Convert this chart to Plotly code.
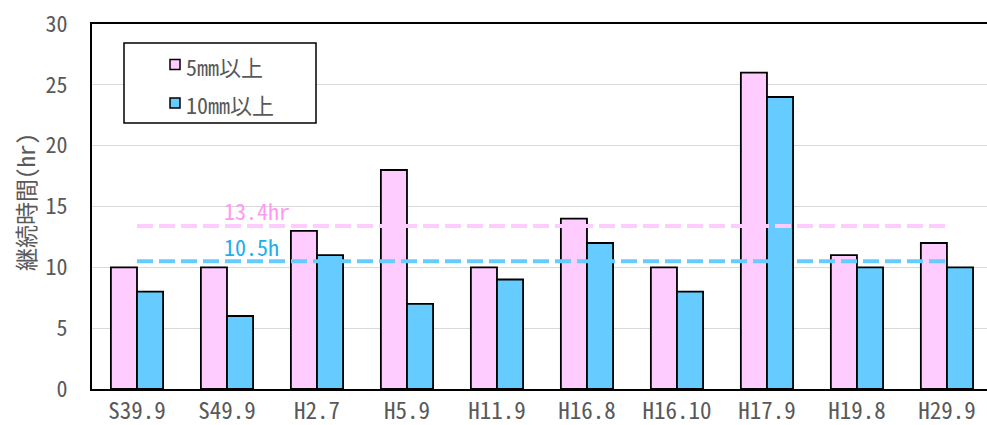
import plotly.graph_objects as go

# Rainfall events and duration (hours) of rain at or above each intensity
events = ["S39.9", "S49.9", "H2.7", "H5.9", "H11.9", "H16.8", "H16.10", "H17.9", "H19.8", "H29.9"]
series_names = ["5mm以上", "10mm以上"]
hours_5mm = [10, 10, 13, 18, 10, 14, 10, 26, 11, 12]
hours_10mm = [8, 6, 11, 7, 9, 12, 8, 24, 10, 10]
mean_5mm = 13.4
mean_10mm = 10.5
y_ticks = [0, 5, 10, 15, 20, 25, 30]

PINK = "#FFCCFF"
BLUE = "#66CCFF"
PINK_TEXT = "#FF99F2"
BLUE_TEXT = "#1FAEEA"
GRAY = "#595959"
FONT = "Noto Sans Mono CJK JP, Liberation Mono, Noto Sans CJK JP, monospace"

W, H = 987, 425
L, R, T, B = 92, 0, 24, 36
PW, PH = W - L - R, H - T - B


def px(x):
    return (x - L) / PW


def py(y):
    return (H - B - y) / PH


fig = go.Figure()
fig.add_trace(go.Bar(x=events, y=hours_5mm, name=series_names[0],
                     marker=dict(color=PINK, line=dict(color="black", width=1.8))))
fig.add_trace(go.Bar(x=events, y=hours_10mm, name=series_names[1],
                     marker=dict(color=BLUE, line=dict(color="black", width=1.8))))

# Mean duration lines across all events
for mean_val, color in [(mean_5mm, PINK), (mean_10mm, BLUE)]:
    fig.add_trace(go.Scatter(x=[events[0], events[-1]], y=[mean_val, mean_val],
                             mode="lines", line=dict(color=color, width=4, dash="16px,6px"),
                             hoverinfo="skip"))

fig.add_annotation(x=0.94, y=mean_5mm, xref="x", yref="y", text=f"{mean_5mm:.1f}hr",
                   showarrow=False, xanchor="left", yanchor="middle", yshift=16,
                   font=dict(family=FONT, size=22, color=PINK_TEXT))
fig.add_annotation(x=0.94, y=mean_10mm, xref="x", yref="y", text=f"{mean_10mm:.1f}h",
                   showarrow=False, xanchor="left", yanchor="middle", yshift=15,
                   font=dict(family=FONT, size=22, color=BLUE_TEXT))

# Legend box
fig.add_shape(type="rect", xref="paper", yref="paper",
              x0=px(124), x1=px(316), y0=py(123), y1=py(43),
              line=dict(color="black", width=1.5), fillcolor="white", layer="above")
for (cy, color, name) in [(64.5, PINK, series_names[0]), (103, BLUE, series_names[1])]:
    fig.add_shape(type="rect", xref="paper", yref="paper",
                  x0=px(170), x1=px(180), y0=py(cy + 5), y1=py(cy - 5),
                  line=dict(color="black", width=1.5), fillcolor=color, layer="above")
    fig.add_annotation(x=px(184), y=py(cy + 1), xref="paper", yref="paper", text=name,
                       showarrow=False, xanchor="left", yanchor="middle",
                       font=dict(family=FONT, size=22, color=GRAY))

# Y-axis title
fig.add_annotation(x=px(25), y=py(202), xref="paper", yref="paper", text="継続時間(hr)",
                   showarrow=False, textangle=-90, xanchor="center", yanchor="middle",
                   font=dict(family=FONT, size=23, color=GRAY))

fig.update_layout(
    width=W, height=H,
    margin=dict(l=L, r=R, t=T, b=B, pad=0),
    paper_bgcolor="white", plot_bgcolor="white",
    barmode="group", bargap=0.42, bargroupgap=0,
    showlegend=False,
    xaxis=dict(type="category", range=[-0.5, 9.445], showgrid=False,
               showline=True, linecolor="black", linewidth=2, mirror=True,
               ticks="", tickfont=dict(family=FONT, size=23, color=GRAY)),
    yaxis=dict(range=[0, 30], tickvals=y_ticks, showgrid=True, gridcolor="#D9D9D9",
               gridwidth=1, zeroline=False, showline=True, linecolor="black", linewidth=2,
               ticks="", ticklabelstandoff=18,
               tickfont=dict(family=FONT, size=22, color=GRAY)),
)

fig.write_html("out.html")
